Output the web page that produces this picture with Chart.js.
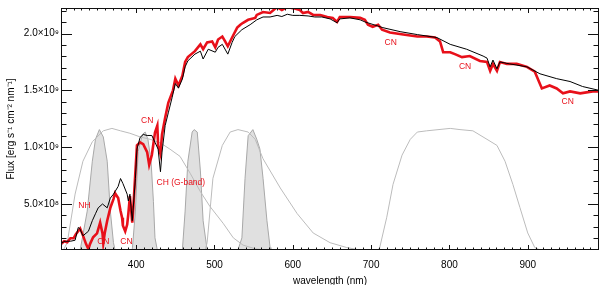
<!DOCTYPE html>
<html>
<head>
<meta charset="utf-8">
<script src="https://cdn.jsdelivr.net/npm/chart.js@4"></script>
<style>
    html, body { margin: 0; padding: 0; background: #fff; }
</style>
</head>
<body>
<canvas id="spektrum" width="600" height="285"></canvas>
<script>
// Fluss in Einheiten von 1e8 erg s^-1 cm^-2 nm^-1, Wellenlaenge in nm
const modellLambda = [304, 309, 316, 322, 326, 328, 332, 339, 344, 348, 351.5, 357, 363, 367, 371, 377, 380, 383, 388.5, 390, 392, 395, 396, 399, 401, 405, 409, 414, 420, 424, 428, 431, 433, 437, 441, 446, 450, 454, 459, 462.5, 466, 475, 482, 485.5, 492, 501, 504.6, 510, 517, 522.5, 526, 535, 545.5, 554, 562, 571, 580, 586, 593, 600, 609, 619.5, 628, 637, 647.6, 656.5, 660, 673, 686, 692, 715, 737, 759, 784, 801, 822, 843, 848, 852, 855.6, 860.7, 864.5, 877, 899, 915.6, 937, 954, 970, 991];
const modellFluss = [1.55, 1.72, 1.72, 1.81, 2.93, 2.84, 2.2, 2.6, 3.53, 4.14, 4.66, 5.0, 4.66, 5.52, 5.86, 6.55, 7.24, 6.81, 5.86, 5.26, 5.86, 3.53, 4.4, 7.24, 9.83, 10.86, 11.12, 11.03, 11.03, 10.43, 9.83, 7.84, 9.57, 11.9, 13.02, 14.4, 15.6, 15.2, 16.0, 17.07, 17.6, 18.19, 18.45, 17.76, 18.62, 18.36, 18.79, 19.05, 18.19, 19.22, 19.74, 20.34, 20.78, 21.21, 21.46, 21.46, 21.6, 21.5, 21.7, 21.6, 21.6, 21.55, 21.46, 21.46, 21.29, 20.95, 21.29, 21.38, 21.21, 21.03, 20.52, 20.17, 19.91, 19.65, 19.05, 18.62, 18.02, 17.84, 17.07, 17.67, 16.9, 17.5, 17.33, 17.07, 16.46, 16.03, 15.78, 15.34, 15.0];

const beobLambda = [304, 308, 312, 316, 320, 323, 328.5, 332, 336, 339, 341, 345, 350, 354, 357, 358, 360, 363, 367, 371, 373, 377, 380, 382, 383, 386, 388.5, 390, 392, 395, 396, 399, 401, 405, 409, 414, 416.6, 420, 424, 427, 428, 431, 433, 437, 441, 447, 450, 454, 459, 462.5, 466, 475, 482, 485.5, 490.6, 497, 501, 504.6, 510, 513.6, 517, 522.5, 529, 533, 536.5, 543, 552, 554, 562, 571, 580, 586, 593, 600, 609, 613, 619.5, 626, 635, 644, 651, 656.5, 660, 673, 686, 692, 696, 702, 709, 714, 724, 741, 759, 771, 781.6, 788, 792, 801, 807, 816, 826, 839, 848, 852, 855.6, 860.7, 864.5, 873.5, 886, 899, 909, 918, 928, 937, 945, 954, 967, 983, 991];
const beobFluss = [1.47, 1.72, 1.64, 1.98, 1.98, 2.33, 2.84, 2.24, 1.47, 1.03, 1.47, 2.07, 2.41, 3.36, 2.41, 1.55, 2.5, 3.53, 4.66, 5.43, 5.95, 5.52, 4.4, 3.79, 3.1, 2.59, 3.19, 4.14, 5.69, 3.36, 4.22, 7.84, 10.17, 10.43, 10.26, 9.57, 8.45, 9.31, 11.29, 11.9, 10.17, 9.4, 11.12, 12.59, 13.9, 15.0, 16.03, 15.43, 16.29, 17.5, 17.93, 18.45, 19.05, 18.62, 19.22, 19.31, 18.79, 19.48, 19.74, 19.31, 18.88, 19.65, 20.52, 20.78, 20.95, 21.21, 21.38, 21.64, 21.9, 21.81, 22.33, 22.07, 22.33, 22.24, 22.07, 21.81, 21.9, 21.64, 21.64, 21.46, 21.38, 21.03, 21.46, 21.46, 21.38, 21.21, 20.78, 20.6, 20.78, 20.34, 20.09, 19.91, 19.74, 19.74, 19.65, 19.31, 18.36, 18.36, 18.19, 17.93, 18.02, 17.59, 17.5, 16.72, 17.33, 16.72, 17.5, 17.33, 17.33, 17.07, 16.64, 15.17, 15.43, 15.17, 14.74, 14.91, 14.74, 14.91, 14.91];

// Filterkurven (relative Transmission), grau gefuellt
const filterULambda = [328.5, 337.5, 344, 348, 353, 358, 363, 367, 371, 373];
const filterUTrans = [0, 0.32, 0.73, 0.91, 0.99, 0.93, 0.73, 0.32, 0.06, 0];
const filter410Lambda = [395, 399, 402.5, 408, 411.5, 415, 419, 422, 424, 427];
const filter410Trans = [0, 0.32, 0.81, 0.95, 0.97, 0.91, 0.73, 0.4, 0.1, 0];
const filter470Lambda = [459, 462.5, 466, 471.5, 474, 478, 482, 485.5, 490.6];
const filter470Trans = [0, 0.32, 0.73, 0.97, 0.99, 0.97, 0.65, 0.24, 0];
const filter550Lambda = [530, 535, 539, 543, 549, 554, 558, 562, 567, 571, 572];
const filter550Trans = [0, 0.1, 0.59, 0.94, 0.99, 0.91, 0.83, 0.59, 0.24, 0.02, 0];

// Breite Filter, nur Umriss
const filterBLambda = [307, 312, 322, 332, 344, 358, 369, 380, 392, 405, 418, 431, 443, 456, 469, 482, 494, 511, 524, 536.5, 552, 565];
const filterBTrans = [0, 0.06, 0.46, 0.73, 0.89, 0.98, 1.0, 0.98, 0.96, 0.93, 0.91, 0.88, 0.83, 0.77, 0.63, 0.48, 0.36, 0.22, 0.1, 0.04, 0.01, 0];
const filterVLambda = [488, 490.6, 498, 510, 520, 530, 543, 552, 562, 584, 605.5, 626, 647.6, 669, 686];
const filterVTrans = [0, 0.06, 0.59, 0.86, 0.97, 0.99, 0.97, 0.91, 0.75, 0.51, 0.3, 0.14, 0.06, 0.02, 0];
const filterILambda = [709, 711, 720, 728, 739.5, 750, 759, 771, 801, 813.5, 830, 848, 860.7, 871, 881, 890, 900, 909, 916];
const filterITrans = [0, 0.02, 0.27, 0.54, 0.78, 0.91, 0.97, 0.98, 1.0, 0.99, 0.98, 0.91, 0.86, 0.73, 0.54, 0.35, 0.14, 0.02, 0];

const xTicks = [400, 500, 600, 700, 800, 900];
const yTicks = [5, 10, 15, 20];

// Beschriftungen der Absorptionsbanden
const bandenText = ["NH", "CN", "CN", "CN", "CH (G-band)", "CN", "CN", "CN"];
const bandenLambda = [334, 358, 387.5, 414, 457, 725, 820, 951];
const bandenFluss = [4.83, 1.72, 1.72, 12.33, 6.9, 19.22, 17.07, 13.97];

const schrift = "'Liberation Sans', Arial, Helvetica, sans-serif";

function punkte(lambda, werte) {
    return lambda.map((l, i) => ({ x: l, y: werte[i] }));
}

function gefuellterFilter(lambda, trans) {
    return {
        data: punkte(lambda, trans),
        yAxisID: 'yFilter',
        borderColor: '#a8a8a8',
        backgroundColor: '#e0e0e0',
        borderWidth: 1,
        fill: 'origin',
        order: 4
    };
}

function umrissFilter(lambda, trans) {
    return {
        data: punkte(lambda, trans),
        yAxisID: 'yFilter',
        borderColor: '#bcbcbc',
        borderWidth: 1,
        fill: false,
        order: 3
    };
}

// Rahmen und Tickmarken nach innen, wie bei IDL
const rahmenPlugin = {
    id: 'rahmen',
    afterDraw(chart) {
        const { ctx, chartArea: a, scales: { x, y } } = chart;
        ctx.save();
        ctx.strokeStyle = '#111';
        ctx.lineWidth = 1;
        ctx.beginPath();
        for (let v = Math.ceil(x.min / 10) * 10; v <= x.max; v += 10) {
            const px = Math.round(x.getPixelForValue(v)) + 0.5;
            const len = v % 100 === 0 ? 5 : 2.5;
            ctx.moveTo(px, a.bottom); ctx.lineTo(px, a.bottom - len);
            ctx.moveTo(px, a.top); ctx.lineTo(px, a.top + len);
        }
        for (let v = Math.ceil(y.min); v <= y.max; v += 1) {
            const py = Math.round(y.getPixelForValue(v)) + 0.5;
            const len = v % 5 === 0 ? 11 : 5.5;
            ctx.moveTo(a.left, py); ctx.lineTo(a.left + len, py);
            ctx.moveTo(a.right, py); ctx.lineTo(a.right - len, py);
        }
        ctx.stroke();
        ctx.strokeRect(Math.round(a.left) + 0.5, Math.round(a.top) + 0.5,
            Math.round(a.right - a.left) - 1, Math.round(a.bottom - a.top) - 1);
        ctx.restore();
    }
};

const bandenPlugin = {
    id: 'banden',
    afterDatasetsDraw(chart) {
        const { ctx, scales: { x, y } } = chart;
        ctx.save();
        ctx.fillStyle = '#e8101a';
        ctx.font = '8.5px ' + schrift;
        ctx.textAlign = 'center';
        ctx.textBaseline = 'middle';
        bandenText.forEach((t, i) => {
            ctx.fillText(t, x.getPixelForValue(bandenLambda[i]), y.getPixelForValue(bandenFluss[i]));
        });
        ctx.restore();
    }
};

new Chart(document.getElementById('spektrum'), {
    type: 'line',
    data: {
        datasets: [
            {
                data: punkte(modellLambda, modellFluss),
                borderColor: '#000',
                borderWidth: 1,
                fill: false,
                order: 1
            },
            {
                data: punkte(beobLambda, beobFluss),
                borderColor: '#e8101a',
                borderWidth: 2.6,
                fill: false,
                order: 2
            },
            umrissFilter(filterBLambda, filterBTrans),
            umrissFilter(filterVLambda, filterVTrans),
            umrissFilter(filterILambda, filterITrans),
            gefuellterFilter(filterULambda, filterUTrans),
            gefuellterFilter(filter410Lambda, filter410Trans),
            gefuellterFilter(filter470Lambda, filter470Trans),
            gefuellterFilter(filter550Lambda, filter550Trans)
        ]
    },
    options: {
        responsive: false,
        animation: false,
        events: [],
        layout: { padding: { top: 3, right: 1, left: 0, bottom: 0 } },
        elements: {
            point: { radius: 0 },
            line: { tension: 0 }
        },
        plugins: {
            legend: { display: false },
            tooltip: { enabled: false }
        },
        scales: {
            x: {
                type: 'linear',
                min: 304,
                max: 991,
                grid: { display: false, drawTicks: false },
                border: { display: false },
                afterBuildTicks: (scale) => { scale.ticks = xTicks.map(v => ({ value: v })); },
                afterFit: (scale) => { scale.height = 35; },
                ticks: {
                    padding: 9,
                    maxRotation: 0,
                    color: '#000',
                    font: { family: schrift, size: 10 }
                },
                title: {
                    display: true,
                    text: 'wavelength (nm)',
                    color: '#000',
                    padding: 0,
                    font: { family: schrift, size: 10, lineHeight: 0.8 }
                }
            },
            y: {
                min: 0.95,
                max: 22.25,
                grid: { display: false, drawTicks: false },
                border: { display: false },
                afterBuildTicks: (scale) => { scale.ticks = yTicks.map(v => ({ value: v })); },
                afterFit: (scale) => { scale.width = 61; },
                ticks: {
                    padding: 2,
                    color: '#000',
                    font: { family: schrift, size: 10 },
                    callback: (v) => v >= 10 ? (v / 10).toFixed(1) + '×10⁹' : v.toFixed(1) + '×10⁸'
                },
                title: {
                    display: true,
                    text: 'Flux [erg s⁻¹ cm⁻² nm⁻¹]',
                    color: '#000',
                    padding: { top: 5, bottom: 0 },
                    font: { family: schrift, size: 10 }
                }
            },
            yFilter: {
                display: false,
                min: 0,
                max: 1.99
            }
        }
    },
    plugins: [rahmenPlugin, bandenPlugin]
});
</script>
</body>
</html>
